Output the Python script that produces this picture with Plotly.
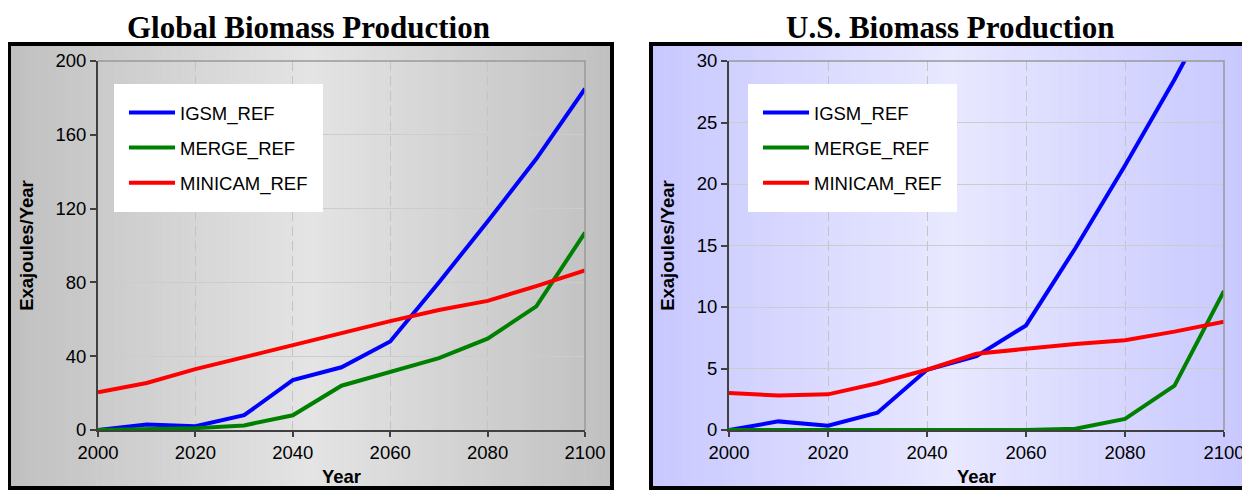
import plotly.graph_objects as go

# the page body has an 8px margin, so the figure starts 8px into the window
OFF = 8
W, H = 1250 - OFF, 491 - OFF

years = [2000, 2010, 2020, 2030, 2040, 2050, 2060, 2070, 2080, 2090, 2100]

# Global biomass production (EJ/yr)
glob_igsm = [0, 3, 2, 8, 27, 34, 48, 80, 113, 147, 185]
glob_merge = [0, 0.5, 1, 2.5, 8, 24, 31.5, 39, 49.5, 67, 107]
glob_minicam = [20.5, 25.5, 33, 39.5, 46.5, 53, 59, 65, 70, 78, 86.5]

# U.S. biomass production (EJ/yr)
us_igsm = [0, 0.7, 0.35, 1.4, 4.9, 6.0, 8.5, 14.8, 21.5, 28.5, 36]
us_merge = [0, 0, 0, 0, 0, 0, 0, 0.1, 0.9, 3.6, 11.3]
us_minicam = [3.0, 2.8, 2.9, 3.8, 4.9, 6.2, 6.6, 7.0, 7.3, 8.0, 8.8]

series_names = ["IGSM_REF", "MERGE_REF", "MINICAM_REF"]
colors = ["#0000ff", "#008000", "#ff0000"]


def px(x):
    return (x - OFF) / W


def py(y):
    return 1 - (y - OFF) / H


def mix(c1, c2, t):
    return "rgb(%d,%d,%d)" % tuple(round(a * (1 - t) + b * t) for a, b in zip(c1, c2))


fig = go.Figure()

panels = [
    dict(data=[glob_igsm, glob_merge, glob_minicam], x="x", y="y", legend="legend"),
    dict(data=[us_igsm, us_merge, us_minicam], x="x2", y="y2", legend="legend2"),
]
for p in panels:
    for name, vals, col in zip(series_names, p["data"], colors):
        fig.add_trace(go.Scatter(
            x=years, y=vals, name=name, mode="lines",
            line=dict(color=col, width=4),
            xaxis=p["x"], yaxis=p["y"], legend=p["legend"],
            legendgroup=p["legend"] + name,
        ))

shapes = []
# frame backgrounds with horizontal gradient
frames = [
    ((9, 44, 612, 488), (192, 192, 192), (228, 228, 228)),
    ((651, 44, 1249, 488), (200, 200, 255), (232, 232, 255)),
]
for (x0, y0, x1, y1), edge, centre in frames:
    n = 90
    step = (x1 - x0) / n
    mid = (x0 + x1) / 2
    for i in range(n):
        a = x0 + i * step
        b = a + step + 0.6
        t = abs((a + step / 2) - mid) / ((x1 - x0) / 2)
        shapes.append(dict(type="rect", xref="paper", yref="paper", layer="below",
                           x0=px(a), x1=px(min(b, x1)), y0=py(y1), y1=py(y0),
                           line=dict(width=0), fillcolor=mix(centre, edge, t)))
    shapes.append(dict(type="rect", xref="paper", yref="paper", layer="above",
                       x0=px(x0), x1=px(x1), y0=py(y1), y1=py(y0),
                       line=dict(color="black", width=4)))

# plot area borders (top / right)
for xa, ya in [("x", "y"), ("x2", "y2")]:
    shapes.append(dict(type="path", xref=xa + " domain", yref=ya + " domain",
                       path="M 0 1 L 1 1 L 1 0", layer="above",
                       line=dict(color="#999999", width=1.5)))

tick_font = dict(family="Liberation Sans, Arial", size=18.5, color="black")
title_font = dict(family="Liberation Sans, Arial", size=18.5, color="black")


def xaxis(domain, anchor):
    return dict(domain=domain, anchor=anchor, range=[2000, 2100], dtick=20,
                automargin=False,
                ticks="outside", ticklen=5, tickcolor="#404040", tickwidth=1.5,
                showgrid=True, gridcolor="#c4c4c4", griddash="10px,5px", gridwidth=1,
                showline=True, linecolor="#404040", linewidth=2, zeroline=False,
                tickfont=tick_font,
                title=dict(text="<b>Year</b>", font=title_font, standoff=8))


def yaxis(domain, anchor, top, step):
    return dict(domain=domain, anchor=anchor, range=[0, top], dtick=step,
                automargin=False,
                ticks="outside", ticklen=6, tickcolor="#404040", tickwidth=1.5,
                showgrid=True, gridcolor="#cccccc", gridwidth=1,
                showline=True, linecolor="#404040", linewidth=2, zeroline=False,
                tickfont=tick_font,
                title=dict(text="<b>Exajoules/Year</b>", font=title_font, standoff=17))


ydom = [py(430), py(61)]
BW = 10
legend_style = dict(bgcolor="white", bordercolor="white", borderwidth=BW,
                    tracegroupgap=8, itemwidth=46,
                    font=dict(family="Liberation Sans, Arial", size=18.5, color="black"),
                    xanchor="left", yanchor="top")

fig.update_layout(
    width=W, height=H, autosize=False,
    margin=dict(l=0, r=0, t=0, b=0),
    paper_bgcolor="white", plot_bgcolor="white",
    xaxis=xaxis([px(98), px(585)], "y"),
    yaxis=yaxis(ydom, "x", 200, 40),
    xaxis2=xaxis([px(729), px(1224)], "y2"),
    yaxis2=yaxis(ydom, "x2", 30, 5),
    legend=dict(x=px(124 - BW), y=py(94 - BW), **legend_style),
    legend2=dict(x=px(758 - BW), y=py(94 - BW), **legend_style),
    shapes=shapes,
    annotations=[
        dict(text="<b>Global Biomass Production</b>", xref="paper", yref="paper",
             x=px(308), y=1, showarrow=False, xanchor="center", yanchor="top",
             font=dict(family="Liberation Serif, Times New Roman", size=31, color="black")),
        dict(text="<b>U.S. Biomass Production</b>", xref="paper", yref="paper",
             x=px(950), y=1, showarrow=False, xanchor="center", yanchor="top",
             font=dict(family="Liberation Serif, Times New Roman", size=31, color="black")),
    ],
)

fig.write_html("out.html")
